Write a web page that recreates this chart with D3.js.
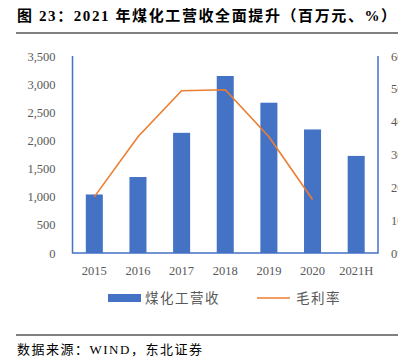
<!DOCTYPE html>
<html>
<head>
<meta charset="utf-8">
<script src="https://cdn.jsdelivr.net/npm/d3@7"></script>
<style>
  body { margin: 0; background: #fff; }
  svg { display: block; }
</style>
</head>
<body>
<svg id="chart" width="415" height="364"></svg>
<script>
// data
var years = ["2015", "2016", "2017", "2018", "2019", "2020", "2021H"];
var revenue = [1040, 1350, 2135, 3145, 2670, 2195, 1725];   // 煤化工营收, 百万元
var margin = [17.1, 35.4, 49.4, 49.7, 35.4, 16.3];          // 毛利率, % (no 2021H point)
var leftTicks = [0, 500, 1000, 1500, 2000, 2500, 3000, 3500];
var rightTicks = [0, 10, 20, 30, 40, 50, 60];

var svg = d3.select("#chart");
var numFont = "'Liberation Serif', 'Noto Sans CJK SC', serif";
var cjkFont = "'Noto Sans CJK SC', serif";

// plot box (window.top is read-only, so no "top" name here)
var plotL = 72.5, plotR = 378, plotT = 56, plotB = 253;

var x = d3.scaleBand().domain(years).range([plotL, plotR]).paddingInner(0.61).paddingOuter(0.305);
var yL = d3.scaleLinear().domain([0, 3500]).range([plotB, plotT]);
var yR = d3.scaleLinear().domain([0, 60]).range([plotB, plotT]);

// title
svg.append("text")
    .attr("x", 17).attr("y", 21)
    .attr("font-family", numFont)
    .attr("font-size", 15).attr("font-weight", "bold").attr("fill", "#000")
    .attr("letter-spacing", 1.6)
    .text("图 23：2021 年煤化工营收全面提升（百万元、%）");
svg.append("line").attr("x1", 16).attr("x2", 398).attr("y1", 33).attr("y2", 33)
    .attr("stroke", "#000").attr("stroke-width", 1);

// bars
svg.append("g").selectAll("rect").data(revenue).join("rect")
    .attr("x", function(d, i) { return x(years[i]); })
    .attr("y", function(d) { return yL(d); })
    .attr("width", x.bandwidth())
    .attr("height", function(d) { return plotB - yL(d); })
    .attr("fill", "#4472C4");

// margin line
var line = d3.line()
    .x(function(d, i) { return x(years[i]) + x.bandwidth() / 2; })
    .y(function(d) { return yR(d); });
svg.append("path").datum(margin)
    .attr("d", line).attr("fill", "none")
    .attr("stroke", "#ED7D31").attr("stroke-width", 1.6);

// axes
var axisL = svg.append("g").attr("transform", "translate(" + plotL + ",0)")
    .call(d3.axisLeft(yL).tickValues(leftTicks).tickSize(0).tickPadding(17).tickFormat(d3.format(",")));

// right labels are cut at the picture's edge in the reference
svg.append("defs").append("clipPath").attr("id", "clipR")
    .append("rect").attr("x", 0).attr("y", 0).attr("width", 398).attr("height", 364);
var axisR = svg.append("g").attr("clip-path", "url(#clipR)")
    .append("g").attr("transform", "translate(" + plotR + ",0)")
    .call(d3.axisRight(yR).tickValues(rightTicks).tickSize(0).tickPadding(13).tickFormat(function(d) { return d + "%"; }));

var axisB = svg.append("g").attr("transform", "translate(0," + plotB + ")")
    .call(d3.axisBottom(x).tickSize(0).tickPadding(13));

[axisL, axisR, axisB].forEach(function(a) {
    a.select(".domain").remove();
    a.selectAll("text").attr("font-family", numFont).attr("font-size", 12.5).attr("fill", "#595959");
});

// axis lines in blue
svg.append("path")
    .attr("d", "M" + plotL + "," + plotT + "V" + plotB + "H" + plotR + "V" + plotT)
    .attr("fill", "none").attr("stroke", "#4472C4").attr("stroke-width", 1.5);

// legend
var lg = svg.append("g").attr("font-family", cjkFont).attr("font-size", 13.5)
    .attr("letter-spacing", 1.5).attr("fill", "#595959");
lg.append("rect").attr("x", 108).attr("y", 294).attr("width", 33).attr("height", 8).attr("fill", "#4472C4");
lg.append("text").attr("x", 145).attr("y", 303).text("煤化工营收");
lg.append("line").attr("x1", 257).attr("x2", 290).attr("y1", 298).attr("y2", 298)
    .attr("stroke", "#ED7D31").attr("stroke-width", 1.6);
lg.append("text").attr("x", 296).attr("y", 303).text("毛利率");

// source
svg.append("line").attr("x1", 16).attr("x2", 398).attr("y1", 335).attr("y2", 335)
    .attr("stroke", "#808080").attr("stroke-width", 2);
svg.append("text").attr("x", 17).attr("y", 354)
    .attr("font-family", numFont).attr("font-size", 13).attr("fill", "#000")
    .attr("letter-spacing", 1.5)
    .text("数据来源：WIND，东北证券");
</script>
</body>
</html>
